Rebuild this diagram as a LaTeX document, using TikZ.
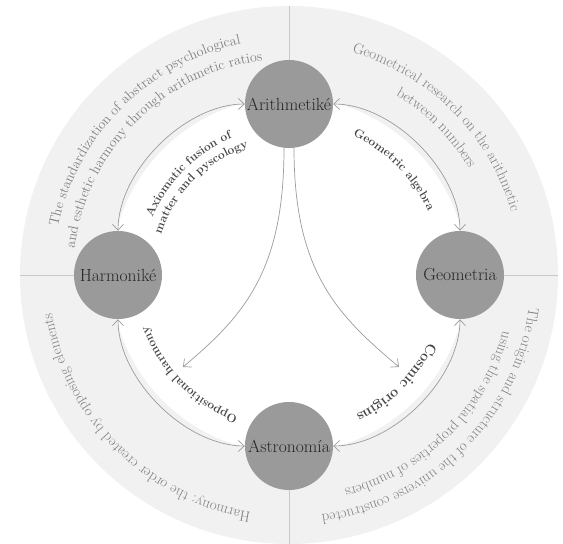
\documentclass[tikz,border=0pt]{standalone}
\definecolor{ringGray}{HTML}{F1F1F1}
\definecolor{sepGray}{HTML}{C9C9C9}
\definecolor{linkGray}{HTML}{9C9C9C}
\definecolor{planetGray}{HTML}{9A9A9A}
\definecolor{planetText}{HTML}{262626}
\definecolor{labelGray}{HTML}{484848}
\definecolor{ringText}{HTML}{808080}
\usepackage{tikz}
\usetikzlibrary{arrows.meta, decorations.text}
\newcommand{\ringfont}{\fontsize{15}{17}\selectfont}
\newcommand{\arcfont}{\fontsize{12}{14}\selectfont\bfseries}

\begin{document}
\begin{tikzpicture}[x=1pt, y=1pt,
      planet/.style={circle, fill=planetGray, minimum size=88pt, inner sep=0pt,
         text=planetText, font=\fontsize{17.5}{17.5}\selectfont},
      link/.style={linkGray, line width=0.7pt},
      tips/.style={{Straight Barb[length=6pt, width=11pt]}-{Straight Barb[length=6pt, width=11pt]}},
      sep/.style={sepGray, line width=0.8pt},
      ringtext/.style={decorate, decoration={text along path, text align=center, text color=ringText}},
      arctext/.style={decorate, decoration={text along path, text align=center, text color=labelGray}}]
            \useasboundingbox (-289,-269) rectangle (274,275);
            % Rings
            \fill[ringGray] (0,0) circle (269);
            \fill[white] (0,0) circle (178);
            % Planets
            \node[planet] (arith) at (90:171) {Arithmetiké};
            \node[planet] (harm) at (180:171) {Harmoniké};
            \node[planet] (geo) at (0:171) {Geometria};
            \node[planet] (astro) at (-90:171) {Astronomía};
            % Separators
            \draw[sep] (arith.north) -- (90:269);
            \draw[sep] (harm.west) -- (180:269);
            \draw[sep] (geo.east) -- (0:269);
            \draw[sep] (astro.south) -- (-90:269);
            % Arcs between planets
            \draw[link, tips] (arith.west) to[out=180, in=90, looseness=0.85] (harm.north);
            \draw[link, tips] (arith.east) to[out=0, in=90, looseness=0.85] (geo.north);
            \draw[link, tips] (geo.south) to[out=-90, in=0, looseness=0.85] (astro.east);
            \draw[link, tips] (astro.west) to[out=180, in=-90, looseness=0.85] (harm.south);
            % Branches from Arithmetike
            \coordinate (tipL) at (-106,-92);
            \coordinate (tipR) at (110,-92);
            \draw[link, -{Straight Barb[length=6pt, width=11pt]}] ([xshift=-5pt]arith.south)
               to[out=-90, in=40, out looseness=1.3, in looseness=0.85] (tipL);
            \draw[link, -{Straight Barb[length=6pt, width=11pt]}] ([xshift=5pt]arith.south)
               to[out=-90, in=140, out looseness=1.3, in looseness=0.85] (tipR);
            % Arc labels
            \path[arctext, decoration={text={|\arcfont|Axiomatic fusion of}}]
               (180:148) arc[start angle=180, end angle=90, radius=148];
            \path[arctext, decoration={text={|\arcfont|matter and pyscology}}]
               (180:134) arc[start angle=180, end angle=90, radius=134];
            \path[arctext, decoration={text={|\arcfont|Geometric algebra}}]
               (90:153) arc[start angle=90, end angle=0, radius=153];
            \path[arctext, decoration={text={|\fontsize{14.5}{16}\selectfont\bfseries|Cosmic origins}}]
               (0:155) arc[start angle=0, end angle=-90, radius=155];
            \path[arctext, decoration={text={|\arcfont|Oppositional harmony}}]
               (-90:150) arc[start angle=-90, end angle=-180, radius=150];
            % Ring texts
            \path[ringtext, decoration={text={|\fontsize{14}{16}\selectfont|The standardization of abstract psychological}}]
               (180:236) arc[start angle=180, end angle=90, radius=236];
            \path[ringtext, decoration={text={|\fontsize{14}{16}\selectfont|and esthetic harmony through arithmetic ratios}}]
               (180:216) arc[start angle=180, end angle=90, radius=216];
            \path[ringtext, decoration={text={|\ringfont|Geometrical research on the arithmetic}}]
               (90:231) arc[start angle=90, end angle=0, radius=231];
            \path[ringtext, decoration={text={|\ringfont|between numbers}}]
               (90:209) arc[start angle=90, end angle=0, radius=209];
            \path[ringtext, decoration={text={|\ringfont|The origin and structure of the universe constructed}}]
               (0:242) arc[start angle=0, end angle=-90, radius=242];
            \path[ringtext, decoration={text={|\ringfont|using the spatial properties of numbers}}]
               (0:221) arc[start angle=0, end angle=-90, radius=221];
            \path[ringtext, decoration={text={|\ringfont|Harmony: the order created by opposing elements}}]
               (-90:240) arc[start angle=-90, end angle=-180, radius=240];
         \end{tikzpicture}
\end{document}
